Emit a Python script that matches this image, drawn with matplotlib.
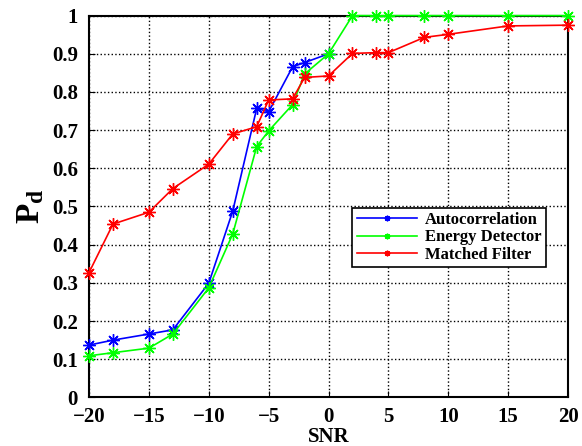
import matplotlib
matplotlib.use('Agg')
import matplotlib.pyplot as plt
from matplotlib.ticker import FormatStrFormatter

# Data
snr_auto = [-20, -18, -15, -13, -10, -8, -6, -5, -3, -2, 0]
pd_auto = [0.137, 0.150, 0.166, 0.177, 0.299, 0.488, 0.757, 0.748, 0.866, 0.877, 0.90]

snr_energy = [-20, -18, -15, -13, -10, -8, -6, -5, -3, -2, 0, 2, 4, 5, 8, 10, 15, 20]
pd_energy = [0.109, 0.117, 0.129, 0.166, 0.287, 0.428, 0.657, 0.698, 0.767, 0.847, 0.90,
             1.0, 1.0, 1.0, 1.0, 1.0, 1.0, 1.0]

snr_matched = [-20, -18, -15, -13, -10, -8, -6, -5, -3, -2, 0, 2, 4, 5, 8, 10, 15, 20]
pd_matched = [0.327, 0.454, 0.485, 0.547, 0.611, 0.690, 0.709, 0.779, 0.782, 0.838, 0.842,
              0.901, 0.903, 0.903, 0.943, 0.951, 0.973, 0.975]

x_ticks = list(range(-20, 21, 5))
y_ticks = [i / 10 for i in range(11)]

plt.rcParams['font.family'] = ['Liberation Serif', 'DejaVu Serif']
plt.rcParams['font.weight'] = 'bold'
plt.rcParams['mathtext.fontset'] = 'custom'
plt.rcParams['mathtext.bf'] = 'Liberation Serif:bold'
plt.rcParams['mathtext.rm'] = 'Liberation Serif:bold'

fig = plt.figure(figsize=(5.82, 4.46), dpi=100)
ax = fig.add_axes([0.153, 0.109, 0.823, 0.856])

star = (8, 2, 0)
ax.plot(snr_auto, pd_auto, color='blue', marker=star, markersize=9, lw=1.2,
        label='Autocorrelation', clip_on=False, zorder=3)
ax.plot(snr_energy, pd_energy, color='#00ff00', marker=star, markersize=9, lw=1.2,
        label='Energy Detector', clip_on=False, zorder=3)
ax.plot(snr_matched, pd_matched, color='red', marker=star, markersize=9, lw=1.2,
        label='Matched Filter', clip_on=False, zorder=3)

ax.set_xlim(-20, 20)
ax.set_ylim(0, 1)
ax.set_xticks(x_ticks)
ax.set_yticks(y_ticks)
ax.yaxis.set_major_formatter(FormatStrFormatter('%g'))
ax.tick_params(direction='in', length=4, labelsize=15, pad=8)
ax.tick_params(axis='x', pad=7)
for lbl in ax.get_xticklabels() + ax.get_yticklabels():
    lbl.set_fontweight('bold')

ax.grid(True, linestyle=':', color='black', lw=1)
for sp in ax.spines.values():
    sp.set_linewidth(1.5)

ax.set_xlabel('SNR', fontsize=15, fontweight='bold', labelpad=0)
ax.set_ylabel(r'$\mathbf{P_d}$', fontsize=24, labelpad=4)

leg = ax.legend(loc='upper left', bbox_to_anchor=(0.55, 0.497),
                prop={'weight': 'bold', 'size': 12}, fancybox=False,
                edgecolor='black', framealpha=1, borderpad=0.25,
                labelspacing=0.1, handlelength=3.6, handletextpad=0.5,
                markerscale=0.45, borderaxespad=0)
leg.get_frame().set_linewidth(1.2)

fig.savefig('out.png', dpi=100)
